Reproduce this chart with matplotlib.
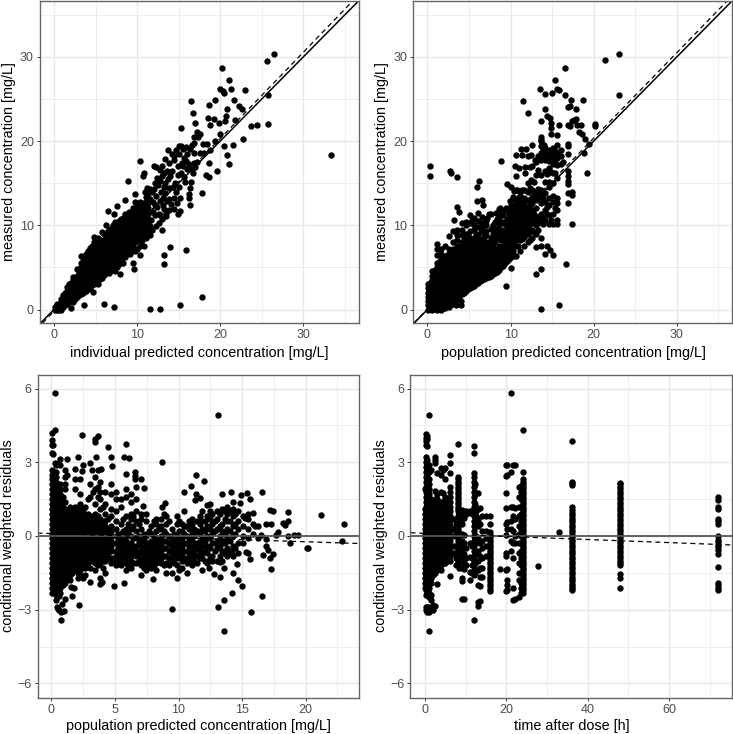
# Goodness-of-fit plots, values
import matplotlib
matplotlib.use('Agg')
import matplotlib.pyplot as plt

plt.rcParams['font.family'] = ['Liberation Sans', 'DejaVu Sans']

# --- panel 1: measured vs individual predicted (columns = ipred: measured values)
dv_by_ipred = {
    0.1: [0.0, 0.3], 0.4: [0.0, 0.4, 0.7], 0.8: [0.0, 0.4, 0.9, 1.3], 1.3: [0.5, 1.0, 1.5, 2.0],
    1.8: [0.9, 1.4, 1.9, 2.4, 3.0], 2.3: [0.9, 1.3, 1.8, 2.3, 2.9, 3.5, 3.9],
    2.8: [1.5, 2.0, 2.5, 3.0, 3.5, 4.0, 4.8], 3.3: [1.8, 2.3, 2.9, 3.4, 4.0, 4.5, 5.0, 5.5, 6.3],
    3.8: [2.2, 2.7, 3.3, 3.8, 4.4, 5.0, 5.5, 6.0, 6.6], 4.3: [2.6, 3.2, 3.8, 4.4, 5.0, 5.6, 6.2, 6.8, 7.3],
    4.8: [3.0, 3.6, 4.2, 4.8, 5.4, 6.0, 6.6, 7.2, 8.0, 8.6], 5.3: [3.0, 3.8, 4.4, 5.0, 5.6, 6.2, 6.8, 7.4, 8.0, 8.5],
    5.8: [3.8, 4.4, 5.0, 5.6, 6.2, 6.8, 7.4, 8.0, 9.2], 6.3: [4.3, 4.9, 5.5, 6.1, 6.7, 7.3, 7.9, 8.5, 10.0],
    6.8: [4.6, 5.2, 5.8, 6.4, 7.0, 7.6, 8.2, 8.8, 9.6], 7.3: [4.6, 5.4, 6.0, 6.6, 7.2, 7.8, 8.4, 9.0, 9.6, 10.4],
    7.8: [5.4, 6.2, 6.8, 7.4, 8.0, 8.6, 9.2, 9.8, 10.5], 8.3: [5.5, 6.6, 7.2, 7.8, 8.4, 9.0, 9.6, 10.2, 10.9],
    8.8: [6.9, 7.6, 8.2, 8.8, 9.4, 10.0, 10.6, 11.2], 9.3: [7.1, 7.8, 8.4, 9.0, 9.6, 10.2, 10.8, 11.4],
    9.8: [6.9, 8.0, 8.6, 9.2, 9.8, 10.4, 11.0, 11.6, 12.8, 13.7], 10.3: [7.5, 8.6, 9.2, 9.8, 10.4, 11.0, 11.6, 12.2, 12.8],
    10.8: [7.6, 8.8, 9.4, 10.0, 10.6, 11.2, 11.8, 12.4], 11.3: [9.0, 9.6, 10.2, 10.8, 11.4, 12.0, 12.6, 13.2, 13.8],
    # staggered columns, the band is solid in the picture
    1.05: [0.3, 0.7, 1.2, 1.7], 1.55: [0.7, 1.2, 1.7, 2.2, 2.7], 2.05: [1.1, 1.6, 2.1, 2.6, 3.2],
    2.55: [1.2, 1.7, 2.2, 2.7, 3.2, 3.7], 3.05: [1.7, 2.2, 2.7, 3.2, 3.7, 4.3, 4.8],
    3.55: [2.0, 2.6, 3.1, 3.7, 4.2, 4.8, 5.3, 5.8], 4.05: [2.4, 3.0, 3.6, 4.1, 4.7, 5.3, 5.8, 6.4, 7.0],
    4.55: [2.9, 3.5, 4.1, 4.7, 5.3, 5.9, 6.5, 7.0, 7.6], 5.05: [3.3, 3.9, 4.5, 5.1, 5.7, 6.3, 6.9, 7.5, 8.2],
    5.55: [3.6, 4.2, 4.7, 5.3, 5.9, 6.5, 7.1, 7.7, 8.3], 6.05: [4.1, 4.7, 5.3, 5.9, 6.5, 7.1, 7.7, 8.3, 9.0],
    6.55: [4.5, 5.1, 5.7, 6.3, 6.9, 7.5, 8.1, 8.7, 9.3], 7.05: [4.9, 5.5, 6.1, 6.7, 7.3, 7.9, 8.5, 9.1, 10.0],
    7.55: [5.1, 5.7, 6.3, 6.9, 7.5, 8.1, 8.7, 9.3, 10.0], 8.05: [5.8, 6.5, 7.1, 7.7, 8.3, 8.9, 9.5, 10.1, 10.7],
    8.55: [6.4, 7.0, 7.6, 8.2, 8.8, 9.4, 10.0, 10.6, 11.3], 9.05: [7.3, 8.0, 8.6, 9.2, 9.8, 10.4, 11.0, 11.6],
    9.55: [7.6, 8.3, 8.9, 9.5, 10.1, 10.7, 11.3, 12.0], 10.05: [7.2, 8.2, 8.9, 9.5, 10.1, 10.7, 11.3, 11.9, 12.5],
    10.55: [8.2, 8.9, 9.5, 10.1, 10.7, 11.3, 11.9, 12.6], 11.05: [8.6, 9.2, 9.8, 10.4, 11.0, 11.6, 12.2, 12.8, 13.4],
}
ipred_scatter = [
    (33.3, 18.3), (26.5, 30.4), (25.6, 29.5), (25.7, 25.5), (25.7, 22.0), (24.4, 21.9), (23.7, 21.8), (22.8, 20.2),
    (23.0, 26.1), (20.2, 28.7), (21.1, 27.2), (20.0, 26.2), (21.3, 26.2), (20.5, 25.7), (20.3, 25.9), (21.7, 24.9),
    (19.4, 24.9), (16.5, 24.8), (18.6, 24.3), (22.3, 24.2), (22.6, 23.8), (20.8, 23.8), (16.7, 23.3), (20.7, 23.0),
    (18.5, 22.8), (21.8, 22.5), (19.2, 22.6), (19.8, 22.2), (20.6, 22.4), (17.0, 22.2), (18.8, 21.9), (15.3, 21.5),
    (20.0, 20.8), (17.2, 21.1), (17.6, 20.9), (16.8, 20.5), (20.5, 19.4), (21.6, 19.5), (20.8, 18.3), (21.0, 17.3),
    (19.6, 16.4), (18.6, 17.4), (18.3, 16.0), (18.7, 15.7), (17.8, 13.8), (16.4, 12.4), (15.9, 7.1), (14.0, 7.4),
    (13.2, 6.5), (13.2, 5.4), (17.8, 1.5), (15.2, 0.5), (12.7, 0.1), (11.5, 0.1), (7.2, 0.3), (6.0, 0.6), (3.6, 0.5),
    (2.1, 0.2), (0.6, 0.0), (4.7, 2.1), (9.6, 4.8), (9.5, 5.5), (7.9, 4.2), (10.4, 6.5), (10.4, 17.6), (10.8, 16.2),
    (10.7, 15.9), (8.9, 15.3), (8.6, 13.0), (7.6, 12.3), (6.5, 11.7), (7.2, 11.3), (11.8, 13.9), (12.0, 14.3),
    (12.3, 13.5), (12.5, 14.8), (12.8, 15.3), (13.0, 15.8), (13.2, 14.5), (13.4, 13.8), (13.6, 12.9), (13.8, 14.4),
    (12.0, 17.0), (12.3, 16.9), (12.8, 16.6), (13.0, 17.0), (13.4, 17.9), (13.6, 16.5), (13.7, 19.0), (14.2, 18.5),
    (14.4, 17.8), (14.2, 16.5), (14.0, 15.9), (14.6, 15.0), (14.3, 14.5), (14.5, 13.2), (14.1, 12.5), (13.9, 11.8),
    (13.5, 11.1), (13.0, 10.8), (12.6, 10.3), (12.3, 9.9), (11.8, 9.4), (11.5, 8.9), (13.5, 11.5), (13.0, 9.5),
    (15.0, 19.4), (15.3, 19.4), (15.5, 19.1), (15.0, 18.5), (15.6, 18.0), (15.9, 17.6), (15.3, 16.2), (15.6, 15.7),
    (15.8, 15.1), (15.0, 14.6), (15.2, 13.3), (14.8, 12.6), (15.2, 11.7), (14.9, 11.3), (16.4, 19.1), (16.6, 19.5),
    (16.9, 19.8), (17.3, 20.5), (16.3, 17.3), (16.6, 16.7), (16.7, 16.2), (16.5, 15.2), (16.4, 14.4), (16.3, 13.7),
    (16.3, 13.2), (17.2, 17.5), (17.6, 18.6), (18.0, 18.6), (18.4, 19.7), (18.8, 19.0), (19.4, 20.0), (14.7, 19.0),
    (11.6, 14.3), (11.9, 12.8), (12.4, 12.2), (12.7, 12.9), (13.1, 12.4), (12.1, 11.2), (11.7, 10.6), (12.6, 11.4),
    (10.9, 14.0), (11.2, 14.4), (15.4, 17.4), (14.9, 17.1), (16.0, 18.5), (13.2, 16.2), (12.4, 15.6), (13.4, 15.0),
    (11.9, 11.6), (12.2, 12.4), (11.5, 13.1), (12.9, 13.9), (12.2, 15.0), (13.7, 15.5), (14.9, 16.0), (15.5, 17.0),
    (14.5, 18.2), (13.9, 17.4), (13.1, 13.2), (13.2, 11.9), (12.8, 11.2), (14.4, 11.9), (14.7, 13.9), (13.9, 13.1),
    (11.1, 8.5), (11.6, 9.9), (10.5, 8.1), (9.2, 6.6), (8.6, 6.2), (8.1, 6.0), (7.1, 5.0), (6.6, 4.3),
    (16.0, 16.7), (16.8, 17.4), (16.9, 18.6), (15.9, 19.3), (17.9, 19.6), (17.0, 16.9),
]

# --- panel 2: measured vs population predicted (columns = pred: measured values)
dv_by_pred = {
    0.1: [0.0, 0.5, 1.0, 1.5, 2.0, 2.5, 3.0],
    0.6: [0.0, 0.5, 1.0, 1.5, 2.0, 2.5, 3.0, 3.5, 4.0, 4.6],
    1.1: [0.0, 0.5, 1.0, 1.5, 2.0, 2.5, 3.0, 3.5, 4.0, 4.5, 5.0, 5.5, 6.5, 7.2, 7.8],
    1.6: [0.0, 0.5, 1.0, 1.5, 2.0, 2.5, 3.0, 3.5, 4.0, 4.5, 5.0, 5.5, 6.0, 6.6, 7.2],
    2.1: [0.2, 0.7, 1.2, 1.7, 2.2, 2.7, 3.2, 3.7, 4.2, 4.7, 5.2, 5.7, 6.1, 7.6],
    2.6: [0.3, 0.8, 1.3, 1.8, 2.3, 2.8, 3.3, 3.8, 4.3, 4.8, 5.3, 5.8, 6.3, 6.6, 7.2, 8.7],
    3.1: [0.6, 1.1, 1.6, 2.1, 2.6, 3.1, 3.6, 4.1, 4.6, 5.1, 5.6, 6.1, 6.6, 7.2, 8.0, 9.3],
    3.6: [1.2, 1.7, 2.2, 2.7, 3.2, 3.7, 4.2, 4.7, 5.2, 5.7, 6.2, 6.7, 7.5, 8.2, 8.9, 9.5],
    4.1: [1.8, 2.3, 2.8, 3.3, 3.8, 4.3, 4.8, 5.3, 5.8, 6.3, 6.8, 7.3, 8.0, 8.8, 9.5, 10.3],
    4.6: [2.2, 2.7, 3.2, 3.7, 4.2, 4.7, 5.2, 5.7, 6.2, 6.7, 7.2, 7.7, 8.4, 9.0, 10.0, 10.4],
    5.1: [2.5, 3.0, 3.5, 4.0, 4.5, 5.0, 5.5, 6.0, 6.5, 7.0, 7.5, 8.5, 9.3, 10.3, 11.2],
    5.6: [2.8, 3.3, 3.8, 4.3, 4.8, 5.3, 5.8, 6.3, 6.8, 7.3, 7.8, 8.5, 9.5, 10.0, 10.9],
    6.1: [3.2, 3.7, 4.2, 4.7, 5.2, 5.7, 6.2, 6.7, 7.2, 7.7, 8.6, 9.8, 10.5, 11.5],
    6.6: [3.5, 4.0, 4.5, 5.0, 5.5, 6.0, 6.5, 7.0, 8.0, 9.8, 10.3, 11.0],
    7.1: [3.7, 4.2, 4.7, 5.2, 5.7, 6.2, 6.7, 7.2, 8.0, 9.3, 10.0, 10.5],
    7.6: [4.0, 4.5, 5.0, 5.5, 6.0, 6.5, 7.0, 7.5, 8.5, 9.6, 11.3],
    8.1: [4.3, 4.8, 5.3, 5.8, 6.3, 6.9, 8.0, 9.3, 10.4],
    8.6: [4.7, 5.2, 5.7, 6.2, 6.7, 7.5, 9.0, 10.0, 11.0, 11.9],
    9.1: [5.2, 5.7, 6.2, 6.8, 7.5, 8.7, 9.5, 11.2],
    9.6: [5.8, 6.4, 7.0, 7.8, 8.5, 9.2, 10.0, 10.8],
    10.1: [6.2, 6.7, 7.3, 8.0, 8.7, 9.5, 10.3, 11.0, 11.8, 12.4],
    10.6: [6.4, 7.5, 8.3, 9.0, 9.7, 10.5, 11.2, 12.0, 13.0, 14.2],
    11.1: [7.0, 8.2, 9.0, 9.8, 10.6, 11.3, 12.0, 12.8, 13.5],
    11.6: [7.5, 8.6, 9.4, 10.2, 11.0, 11.8, 12.5, 13.2, 14.2],
    12.1: [8.0, 9.0, 9.8, 10.5, 11.2, 12.0, 13.0, 14.0, 15.0],
    12.6: [8.5, 9.5, 10.3, 11.0, 11.8, 12.6, 13.4, 14.2, 15.3],
    13.1: [7.4, 9.0, 10.0, 11.0, 12.0, 13.0, 14.0, 16.0, 17.5],
    13.6: [7.6, 8.5, 10.5, 11.4, 12.6, 13.6, 14.2, 16.0, 17.8, 18.6, 19.4],
    14.1: [10.6, 11.8, 12.8, 13.8, 15.2, 16.5, 17.8, 18.5, 19.2],
    14.6: [10.2, 11.2, 12.4, 13.2, 14.5, 15.2, 16.8, 17.6, 18.2, 19.0],
    15.1: [10.2, 11.3, 12.8, 13.5, 15.0, 16.2, 17.3, 18.2, 19.2],
    15.6: [10.1, 10.6, 11.8, 12.7, 13.2, 15.6, 17.2, 18.0, 18.5, 19.5],
    16.1: [17.3, 18.2],
    16.9: [12.6, 13.8, 14.9, 15.3, 15.8, 16.4],
    17.4: [13.6, 14.0],
    # staggered columns, the picture is solid black here
    0.35: [0.2, 0.7, 1.2, 1.7, 2.2, 2.7, 3.2],
    0.85: [0.2, 0.7, 1.2, 1.7, 2.2, 2.7, 3.2, 3.7, 4.2, 4.7],
    1.35: [0.2, 0.7, 1.2, 1.7, 2.2, 2.7, 3.2, 3.7, 4.2, 4.7, 5.2, 5.7],
    1.85: [0.2, 0.7, 1.2, 1.7, 2.2, 2.7, 3.2, 3.7, 4.2, 4.7, 5.2, 5.7, 6.3],
    2.35: [0.5, 1.0, 1.5, 2.0, 2.5, 3.0, 3.5, 4.0, 4.5, 5.0, 5.5, 6.0, 6.5],
    2.85: [0.6, 1.1, 1.6, 2.1, 2.6, 3.1, 3.6, 4.1, 4.6, 5.1, 5.6, 6.1, 6.6],
    3.35: [1.0, 1.5, 2.0, 2.5, 3.0, 3.5, 4.0, 4.5, 5.0, 5.5, 6.0, 6.5, 7.0],
    3.85: [1.5, 2.0, 2.5, 3.0, 3.5, 4.0, 4.5, 5.0, 5.5, 6.0, 6.5, 7.0, 7.6],
    4.35: [2.0, 2.5, 3.0, 3.5, 4.0, 4.5, 5.0, 5.5, 6.0, 6.5, 7.0, 7.5, 8.3],
    4.85: [2.4, 2.9, 3.4, 3.9, 4.4, 4.9, 5.4, 5.9, 6.4, 6.9, 7.4, 8.0],
    5.35: [2.7, 3.2, 3.7, 4.2, 4.7, 5.2, 5.7, 6.2, 6.7, 7.2, 7.7, 8.2],
    5.85: [3.0, 3.5, 4.0, 4.5, 5.0, 5.5, 6.0, 6.5, 7.0, 7.5, 8.0],
    6.35: [3.4, 3.9, 4.4, 4.9, 5.4, 5.9, 6.4, 6.9, 7.4, 8.3],
    6.85: [3.6, 4.1, 4.6, 5.1, 5.6, 6.1, 6.6, 7.1, 7.6, 8.6],
    7.35: [3.9, 4.4, 4.9, 5.4, 5.9, 6.4, 6.9, 7.7],
    7.85: [4.2, 4.7, 5.2, 5.7, 6.2, 6.7, 7.4, 9.0, 10.0],
    8.35: [4.5, 5.0, 5.5, 6.0, 6.6, 7.2, 8.5, 9.6, 10.8],
    8.85: [5.0, 5.5, 6.0, 6.5, 7.1, 8.2, 9.3, 10.4, 11.6],
    9.35: [5.5, 6.0, 6.5, 7.1, 8.0, 9.1, 10.2, 11.8],
    9.85: [6.0, 6.6, 7.2, 8.4, 9.7, 10.5, 11.4],
    10.35: [6.4, 7.0, 7.7, 8.4, 9.1, 9.9, 10.8, 11.6, 12.4, 13.4],
    10.85: [7.6, 8.6, 9.3, 10.1, 10.9, 11.7, 12.6, 13.2],
    11.35: [8.4, 9.2, 10.0, 10.8, 11.6, 12.3],
    11.85: [9.0, 9.7, 10.5, 11.4, 12.1, 13.0],
    12.35: [8.2, 9.3, 10.2, 10.9, 11.6, 12.4, 14.4],
    12.85: [9.2, 10.6, 11.3, 13.6, 14.0, 15.1],
    13.35: [9.5, 10.3, 11.0, 13.3, 14.3, 16.6, 18.2],
    13.85: [10.1, 11.0, 13.2, 18.0, 19.0],
    14.35: [11.3, 12.2, 16.1, 18.1, 18.8],
    14.85: [10.6, 16.3, 17.9, 18.6],
    15.35: [12.0, 17.7, 18.8],
}
pred_scatter = [
    (23.1, 30.4), (21.3, 29.6), (23.0, 25.5), (20.2, 22.0), (20.1, 21.8), (16.6, 28.7), (15.4, 27.2), (13.5, 26.2),
    (15.6, 26.2), (15.8, 26.1), (14.1, 25.6), (15.0, 25.7), (16.5, 25.5), (17.3, 24.9), (18.7, 24.9), (11.5, 24.8),
    (17.2, 24.2), (16.9, 24.1), (17.9, 23.8), (14.1, 23.8), (12.1, 23.3), (14.4, 23.0), (14.7, 22.7), (17.6, 22.5),
    (17.9, 22.6), (17.4, 22.4), (13.6, 22.4), (14.9, 22.2), (15.8, 21.9), (16.9, 21.9), (17.2, 21.8), (18.0, 21.9),
    (18.5, 21.9), (14.9, 21.5), (18.2, 21.1), (18.6, 20.9), (14.9, 20.8), (15.6, 20.7), (18.9, 20.2), (19.4, 19.7),
    (13.6, 20.5), (13.6, 20.1), (16.9, 19.7), (16.9, 19.4), (16.9, 18.5), (18.8, 18.6), (19.2, 16.2), (8.8, 17.6),
    (0.3, 17.0), (0.3, 15.9), (2.7, 16.4), (2.8, 16.2), (3.6, 15.7), (6.2, 15.3), (5.9, 14.5), (6.0, 12.9),
    (6.6, 13.0), (6.7, 12.4), (3.6, 12.2), (3.8, 11.6), (3.2, 10.6), (17.4, 10.1), (16.7, 5.4), (15.1, 6.5),
    (14.2, 6.6), (14.4, 7.5), (14.7, 7.1), (13.6, 4.8), (13.1, 4.2), (10.0, 4.9), (9.5, 2.8), (15.8, 0.5),
    (13.7, 0.1), (3.4, 0.5), (4.0, 0.5), (4.0, 1.0), (10.6, 18.4), (11.3, 19.1), (11.8, 19.1), (12.6, 19.5),
    (11.4, 18.3), (12.1, 18.2), (12.4, 18.4), (12.9, 17.8), (10.5, 17.0), (11.0, 16.8), (11.7, 16.9), (12.3, 16.9),
    (12.6, 17.1), (11.7, 16.2), (10.6, 15.9), (9.6, 14.9), (10.1, 14.5), (10.4, 14.1), (11.4, 14.2), (12.4, 15.4),
    (13.6, 20.0), (14.0, 19.5), (15.4, 16.2), (15.0, 15.0), (14.2, 18.9), (15.3, 18.7), (16.1, 18.9), (16.3, 17.5),
    (4.9, 9.0), (5.4, 10.6), (7.4, 11.3), (8.2, 11.5), (8.7, 12.1), (7.2, 10.9), (9.1, 10.4), (9.5, 12.0),
    (10.3, 13.2), (9.9, 12.9), (10.8, 14.2), (11.1, 14.0), (5.8, 9.0), (6.4, 9.2), (7.0, 8.8), (7.6, 8.2),
    (8.2, 8.5), (8.8, 8.4), (9.3, 7.7), (9.8, 7.9), (6.4, 7.4),
]

# --- panel 3: CWRES vs population predicted (columns = pred: residuals)
cwres_by_pred = {
    0.05: [-2.3, -2.1, -1.9, -1.7, -1.5, -1.3, -1.1, -0.9, -0.7, -0.5, -0.3, -0.1, 0.1, 0.3, 0.5, 0.7, 0.9, 1.1, 1.3, 1.5, 1.7, 1.9, 2.1, 2.3, 2.5, 2.7, 3.38, 3.72, 3.9],
    0.35: [-2.6, -2.4, -2.2, -2.0, -1.8, -1.6, -1.4, -1.2, -1.0, -0.8, -0.6, -0.4, -0.2, 0.0, 0.2, 0.4, 0.6, 0.8, 1.0, 1.2, 1.4, 1.6, 1.8, 2.0, 2.2, 2.4, 2.6, 2.9],
    0.7: [-2.3, -2.1, -1.9, -1.7, -1.5, -1.3, -1.1, -0.9, -0.7, -0.5, -0.3, -0.1, 0.1, 0.3, 0.5, 0.7, 0.9, 1.1, 1.3, 1.5, 1.7, 1.9, 2.1, 2.9],
    1.05: [-1.9, -1.7, -1.5, -1.3, -1.1, -0.9, -0.7, -0.5, -0.3, -0.1, 0.1, 0.3, 0.5, 0.7, 0.9, 1.1, 1.4, 1.9, 2.1, 2.4, 2.7],
    1.45: [-1.8, -1.6, -1.4, -1.2, -1.0, -0.8, -0.6, -0.4, -0.2, 0.0, 0.2, 0.4, 0.6, 0.8, 1.0, 1.2],
    1.85: [-1.4, -1.2, -1.0, -0.8, -0.6, -0.4, -0.2, 0.0, 0.2, 0.4, 0.6, 0.8, 1.0, 1.2, 1.9, 2.3],
    2.25: [-1.6, -1.4, -1.2, -1.0, -0.8, -0.6, -0.4, -0.2, 0.0, 0.2, 0.4, 0.6, 0.8, 1.0, 1.3, 1.7, 2.3],
    2.65: [-1.6, -1.3, -1.1, -0.9, -0.7, -0.5, -0.3, -0.1, 0.1, 0.3, 0.5, 0.7, 0.9, 1.2],
    3.05: [-1.3, -1.0, -0.8, -0.6, -0.4, -0.2, 0.0, 0.2, 0.4, 0.6, 0.8, 1.6, 2.1],
    3.45: [-1.4, -1.1, -0.9, -0.7, -0.5, -0.3, -0.1, 0.1, 0.3, 0.5, 0.7, 0.9, 1.3, 1.9, 2.4],
    3.85: [-1.7, -1.1, -0.9, -0.7, -0.5, -0.3, -0.1, 0.1, 0.3, 0.5, 0.7, 1.1, 1.5, 1.8, 2.2],
    4.25: [-1.5, -1.0, -0.8, -0.6, -0.4, -0.2, 0.0, 0.2, 0.4, 0.6, 0.9, 1.3, 1.8],
    4.65: [-1.1, -0.9, -0.6, -0.4, -0.2, 0.0, 0.2, 0.4, 0.8, 1.1, 1.7, 2.1],
    5.05: [-1.2, -1.0, -0.8, -0.6, -0.3, 0.0, 0.3, 0.6, 1.0, 1.5, 1.8],
    5.45: [-1.2, -0.9, -0.7, -0.5, -0.3, -0.1, 0.1, 0.5, 1.2, 1.5],
    5.85: [-1.4, -1.1, -0.8, -0.6, -0.4, -0.2, 0.0, 0.3, 0.8, 1.6, 1.9],
    6.25: [-1.3, -1.0, -0.8, -0.5, -0.3, 0.0, 0.3, 0.7, 0.9, 1.4, 1.7],
    6.65: [-1.1, -0.8, -0.6, -0.4, -0.1, 0.2, 0.6, 1.0, 1.5, 2.0],
    7.05: [-1.6, -1.2, -0.9, -0.6, -0.4, -0.1, 0.3, 0.7, 0.9],
    7.45: [-1.4, -1.1, -0.8, -0.5, -0.3, 0.0, 0.6, 0.9],
    7.85: [-1.3, -1.0, -0.7, -0.4, -0.2, 0.1, 0.4],
    8.25: [-1.4, -1.1, -0.8, -0.5, -0.2, 0.2, 0.5, 0.7],
    8.65: [-1.1, -0.9, -0.6, -0.3, 0.0, 0.4, 0.7],
    9.05: [-1.5, -1.1, -0.8, -0.5, -0.2, 0.1, 0.5, 0.8],
    9.45: [-1.5, -1.0, -0.7, -0.4, -0.1, 0.3],
    9.85: [-1.7, -1.2, -0.9, -0.6, -0.3, 0.0, 0.5, 0.8],
    10.25: [-1.3, -1.0, -0.7, -0.4, -0.1, 0.2, 0.5],
    10.65: [-1.5, -1.1, -0.9, -0.6, -0.3, 0.0, 0.4],
    11.05: [-1.2, -0.8, -0.6, -0.2, 0.1, 0.5, 0.7],
    11.45: [-1.1, -0.8, -0.5, -0.3, 0.2, 0.6],
    11.85: [-1.4, -0.9, -0.7, -0.4, -0.1, 0.3, 0.6, 1.0],
    12.25: [-1.1, -0.7, -0.4, 0.0, 0.4, 0.8],
    12.65: [-1.0, -0.8, -0.3, 0.1, 0.5, 0.9],
    13.05: [-1.0, -0.5, -0.2, 0.3, 0.7, 1.0],
    13.45: [-1.0, -0.6, -0.2, 0.2, 0.5, 1.1],
    13.85: [-0.8, -0.5, -0.1, 0.3, 0.6, 0.9, 1.2],
    14.25: [-0.8, -0.4, 0.0, 0.4, 0.8, 1.1],
    14.65: [-0.7, -0.3, 0.3, 0.6, 1.0],
    15.05: [-0.3, 0.0, 0.4, 0.8],
    15.45: [-0.7, -0.1, 0.3, 0.7, 0.9],
    15.85: [0.1, 0.5, 0.95],
    16.25: [-0.1, 0.4],
    # staggered columns where the picture is solid
    0.2: [-2.2, -2.0, -1.8, -1.6, -1.4, -1.2, -1.0, -0.8, -0.6, -0.4, -0.2, 0.0, 0.2, 0.4, 0.6, 0.8, 1.0, 1.2, 1.4, 1.6, 1.8, 2.0, 2.2, 2.4, 2.6],
    0.55: [-2.2, -2.0, -1.8, -1.6, -1.4, -1.2, -1.0, -0.8, -0.6, -0.4, -0.2, 0.0, 0.2, 0.4, 0.6, 0.8, 1.0, 1.2, 1.4, 1.6, 1.8],
    0.9: [-2.0, -1.8, -1.6, -1.4, -1.2, -1.0, -0.8, -0.6, -0.4, -0.2, 0.0, 0.2, 0.4, 0.6, 0.8, 1.0, 1.2, 1.6],
    1.25: [-1.6, -1.4, -1.2, -1.0, -0.8, -0.6, -0.4, -0.2, 0.0, 0.2, 0.4, 0.6, 0.8, 1.0, 2.5],
    1.65: [-1.5, -1.3, -1.1, -0.9, -0.7, -0.5, -0.3, -0.1, 0.1, 0.3, 0.5, 0.7, 0.9, 1.1],
    2.05: [-1.7, -1.5, -1.3, -1.1, -0.9, -0.7, -0.5, -0.3, -0.1, 0.1, 0.3, 0.5, 0.7, 0.9, 1.1],
    2.45: [-1.7, -1.2, -1.0, -0.8, -0.6, -0.4, -0.2, 0.0, 0.2, 0.4, 0.6, 0.8, 1.1],
    2.85: [-1.1, -0.9, -0.7, -0.5, -0.3, -0.1, 0.1, 0.3, 0.5, 0.7, 0.9, 1.5],
    3.25: [-1.0, -0.8, -0.6, -0.4, -0.2, 0.0, 0.2, 0.4, 0.6, 0.8, 1.8],
    3.65: [-1.2, -1.0, -0.8, -0.6, -0.4, -0.2, 0.0, 0.2, 0.4, 0.6, 0.8, 1.6, 2.0],
    4.05: [-1.3, -1.0, -0.8, -0.6, -0.4, -0.2, 0.0, 0.2, 0.4, 0.6, 1.2],
    4.45: [-0.9, -0.7, -0.5, -0.3, -0.1, 0.1, 0.3, 0.7],
    5.25: [-1.0, -0.7, -0.5, -0.2, 0.1],
    5.65: [-1.0, -0.8, -0.5, -0.2, 0.2, 0.7],
    6.05: [-1.2, -0.9, -0.6, -0.3, 0.1, 0.5],
    6.45: [-1.1, -0.7, -0.4, -0.1, 0.4, 0.8],
    6.85: [-1.0, -0.7, -0.3, 0.0, 0.5],
    7.25: [-1.3, -1.0, -0.7, -0.5, -0.2, 0.1],
    7.65: [-1.2, -0.9, -0.6, -0.3, 0.2],
    8.05: [-1.2, -0.9, -0.6, -0.3, 0.0, 0.6],
    8.45: [-1.0, -0.7, -0.4, -0.1, 0.3],
    8.85: [-1.2, -0.8, -0.5, -0.2, 0.2, 0.9],
    9.25: [-1.2, -0.9, -0.6, -0.3, 0.0, 0.6],
    9.65: [-1.1, -0.8, -0.5, -0.2, 0.1],
    10.05: [-1.4, -0.8, -0.5, -0.2, 0.2, 0.6],
    10.45: [-0.9, -0.6, -0.3, 0.1, 0.4],
    10.85: [-1.0, -0.7, -0.4, -0.1, 0.3, 0.6],
    11.25: [-1.0, -0.7, -0.4, 0.0, 0.3],
    11.65: [-0.9, -0.6, -0.2, 0.1, 0.5, 0.8],
    12.05: [-1.0, -0.6, -0.2, 0.2, 0.6],
    12.45: [-0.9, -0.5, -0.1, 0.3, 0.7, 1.0],
    12.85: [-0.6, -0.3, 0.2, 0.6],
    13.25: [-0.8, -0.4, 0.0, 0.4, 0.9],
    13.65: [-0.7, -0.3, 0.1, 0.7, 1.0],
    14.05: [-0.6, -0.2, 0.2, 0.6, 1.0],
    14.45: [-0.5, 0.1, 0.5, 0.9],
}
cwres_pred_scatter = [
    (0.3, 5.83), (13.1, 4.94), (0.25, 4.31), (0.05, 4.2), (2.4, 4.1), (3.7, 4.06), (3.4, 3.93), (3.4, 3.81),
    (5.9, 3.73), (4.45, 3.62), (2.05, 3.2), (3.5, 3.2), (4.7, 3.2), (5.7, 3.2), (6.1, 3.19), (1.2, 3.12), (0.7, 3.13),
    (8.7, 3.01), (3.0, 2.97), (2.5, 2.88), (4.75, 2.83), (3.9, 2.73), (3.7, 2.69), (1.85, 2.71), (3.2, 2.7),
    (2.4, 2.65), (5.85, 2.54), (6.6, 2.59), (6.55, 2.45), (11.4, 2.48), (12.0, 2.25), (11.0, 2.02), (6.55, 2.33),
    (7.05, 2.32), (7.3, 1.97), (16.6, 1.8), (10.4, 1.78), (13.4, 1.72), (14.1, 1.78), (15.4, 1.76), (14.95, 1.66),
    (11.4, 1.72), (11.7, 1.56), (15.6, 1.51), (11.3, 1.45), (8.95, 1.34), (8.7, 1.17), (7.2, 1.23), (10.4, 1.03),
    (12.25, 1.25), (12.5, 1.29), (14.3, 1.38), (14.8, 1.36), (17.2, 1.07), (17.4, 1.03), (18.6, 0.96), (21.2, 0.87),
    (23.0, 0.5), (22.9, -0.2), (20.2, -0.49), (20.1, -0.47), (18.8, -0.28), (18.6, 0.0), (19.1, 0.05), (19.4, 0.04),
    (18.6, 0.61), (18.2, 0.53), (18.4, 0.46), (16.85, 0.5), (17.3, 0.5), (17.85, 0.16), (17.7, 0.03), (16.9, -0.11),
    (16.9, -0.42), (17.0, -0.56), (17.4, -0.75), (16.65, -0.79), (17.2, -0.9), (17.3, -1.36), (16.6, -2.43),
    (15.7, -3.09), (13.6, -3.87), (13.1, -2.89), (13.6, -2.6), (14.2, -2.32), (15.0, -2.05), (14.65, -1.8),
    (14.3, -1.52), (12.8, -1.53), (13.3, -1.67), (13.6, -1.3), (14.6, -1.15), (15.6, -0.92), (15.3, -0.65),
    (9.45, -2.99), (5.7, -1.91), (4.9, -2.04), (3.05, -1.89), (2.2, -2.81), (0.75, -3.41), (1.65, -2.43), (1.1, -2.58),
    (1.8, -2.12), (1.5, -2.08), (8.0, -1.76), (3.8, -1.94), (4.0, -1.87), (0.4, -2.9), (0.6, -3.0), (0.95, -3.07),
    (0.75, -3.09), (0.55, -2.96), (0.8, -2.75), (0.6, -2.45), (0.1, 3.72), (0.1, 3.35), (0.3, 2.95), (0.5, 2.98),
    (14.2, -0.7), (13.3, -1.05), (12.4, -1.3), (15.2, 0.75), (16.0, 0.4), (16.5, 0.05),
]

# --- panel 4: CWRES vs time after dose (columns = time: residuals)
cwres_by_time = {
    0.0: [-2.1, -1.9, -1.7, -1.5, -1.3, -1.1, -0.9, -0.7, -0.5, -0.3, -0.1, 0.1, 0.3, 0.5, 0.7, 0.9, 1.1, 1.9],
    0.25: [-3.0, -2.9, -2.4, -2.2, -2.0, -1.8, -1.6, -1.4, -1.2, -1.0, -0.8, -0.6, -0.4, -0.2, 0.0, 0.2, 0.4, 0.6, 0.8, 1.0, 1.2, 1.4, 1.6, 1.8, 2.0, 2.2, 2.4, 2.6, 2.8, 3.0, 3.2, 3.7, 3.85, 4.0, 4.15],
    0.5: [-3.1, -2.9, -2.3, -2.1, -1.9, -1.7, -1.5, -1.3, -1.1, -0.9, -0.7, -0.5, -0.3, -0.1, 0.1, 0.3, 0.5, 0.7, 0.9, 1.1, 1.3, 1.5, 1.7, 1.9, 2.1, 2.3, 2.5, 2.7, 2.9, 3.1, 3.65, 3.95, 4.05],
    1.0: [-3.87, -3.1, -2.9, -2.5, -2.3, -2.1, -1.9, -1.7, -1.5, -1.3, -1.1, -0.9, -0.7, -0.5, -0.3, -0.1, 0.1, 0.3, 0.5, 0.7, 0.9, 1.1, 1.3, 1.5, 1.7, 1.9, 2.1, 2.3, 2.6, 2.9, 4.94],
    1.5: [-3.0, -2.6, -2.4, -1.9, -1.7, -1.5, -1.3, -1.1, -0.9, -0.7, -0.5, -0.3, -0.1, 0.1, 0.3, 0.5, 0.7, 0.9, 1.1, 1.3, 1.5, 2.7],
    2.0: [-3.0, -2.8, -1.6, -1.4, -1.2, -1.0, -0.8, -0.6, -0.4, -0.2, 0.0, 0.2, 0.4, 0.6, 0.8, 1.0, 1.2, 1.4],
    2.5: [-2.85, -1.5, -1.3, -1.1, -0.9, -0.7, -0.5, -0.3, -0.1, 0.1, 0.3, 0.5, 0.7, 0.9, 1.1, 1.3, 1.5, 1.85, 2.95, 3.1, 3.2],
    3.0: [-1.97, -1.4, -1.1, -0.9, -0.7, -0.5, -0.3, -0.1, 0.1, 0.3, 0.5, 0.7, 0.9, 1.1, 1.3, 1.5, 1.7, 2.55],
    3.5: [-1.2, -1.0, -0.8, -0.6, -0.4, -0.2, 0.0, 0.2, 0.4, 0.6, 0.8, 1.0, 1.2, 1.4],
    4.0: [-1.4, -1.2, -1.0, -0.8, -0.6, -0.4, -0.2, 0.0, 0.2, 0.4, 0.6, 0.8, 1.0, 1.2, 1.4, 1.8, 2.5, 2.75],
    4.5: [-1.1, -0.8, -0.5, -0.2, 0.1, 0.4, 0.7, 1.0, 1.3, 1.75, 2.7],
    5.0: [-1.1, -0.9, -0.7, -0.5, -0.3, -0.1, 0.1, 0.3, 0.5, 0.7, 0.9, 1.1, 1.3, 1.5, 1.6, 2.3, 2.78],
    5.5: [-1.0, -0.7, -0.4, -0.1, 0.2, 0.5, 0.8, 1.1, 1.5],
    6.0: [-1.62, -1.0, -0.8, -0.6, -0.4, -0.2, 0.0, 0.2, 0.4, 0.6, 0.8, 1.0, 1.2, 1.4, 1.6, 1.8, 2.0, 2.55, 2.95, 3.3],
    7.0: [-0.7, -0.4, 0.0, 0.3, 0.7],
    7.7: [-1.2, -0.9, -0.7, -0.4, 0.2, 0.5],
    8.0: [-1.2, -1.0, -0.8, -0.6, -0.4, -0.2, 0.0, 0.2, 0.4, 0.6, 0.8, 1.0, 1.2, 1.4, 1.6, 1.8, 2.0, 2.2, 2.4, 3.73],
    8.1: [-0.9, -0.5, -0.1, 0.3, 0.7, 1.1, 1.3, 1.5, 1.7, 1.9, 2.1, 2.3],
    8.4: [-1.3, -0.85, -0.5, 0.55, 0.95],
    9.0: [-2.58, -1.85, -1.7, -1.3, -1.0, -0.8, -0.6, -0.4, -0.2, 0.1, 0.5, 0.7, 0.9, 1.05],
    9.5: [-2.58, -1.35, -1.1, -0.75, -0.3, 0.05, 0.75, 1.0],
    10.0: [-1.2, -0.9, -0.5, 0.9, 1.0],
    11.0: [-1.77, -1.45, -0.85, -0.3, 0.95, 1.0],
    11.5: [-1.5, -1.2, -0.9, -0.4, 1.0],
    12.0: [-3.42, -1.6, -1.4, -1.2, -1.0, -0.8, -0.6, -0.4, -0.2, 0.0, 0.2, 0.4, 0.6, 0.8, 1.0, 1.2, 1.4, 1.6, 1.8, 2.0, 2.2, 2.4, 2.55, 3.38, 3.67],
    12.25: [-1.5, -1.1, -0.7, -0.1, 0.5, 0.9, 1.3, 1.7, 2.1],
    12.5: [-1.4, -1.0, -0.7, -0.3, 0.0, 0.4, 0.8, 1.0, 1.75],
    13.0: [-2.85, -2.7, -2.0, -1.4, -1.0, -0.6, -0.1, 0.4, 0.7, 1.1, 1.75],
    13.4: [-2.65, -2.05, -1.65, -1.3, -0.8, -0.3, 0.5, 1.15],
    14.0: [-1.65, -1.3, -0.9, -0.5, -0.2, 0.2, 0.8],
    15.0: [-0.8, -0.4, -0.1, 0.2, 0.8],
    16.0: [-2.25, -2.05, -1.85, -1.65, -1.45, -1.25, -1.05, -0.85, -0.65, -0.45, -0.25, -0.05, 0.15, 0.5, 0.8],
    16.05: [-2.15, -1.95, -1.75, -1.55, -1.35, -1.15, -0.95, -0.75, -0.55, -0.35, -0.15, 0.05],
    18.3: [-1.36],
    19.8: [-2.25, -1.4, -0.8, -0.7, 0.05, 0.5, 1.15, 1.75, 2.46, 2.9],
    20.2: [-2.2, -2.0, -1.8, -1.35, 0.3, 0.55, 2.5, 2.9],
    21.0: [-0.6, -0.2, 0.3, 0.6, 1.2, 2.62, 5.83],
    21.6: [-2.6, -2.1, -0.9, -0.3, 0.2, 0.8, 1.2, 2.88],
    22.1: [-2.58, -0.3, 0.0, 0.7, 1.15, 2.9],
    23.0: [-2.5, -1.8, -1.5, -1.1, -0.7, -0.3, 0.1, 0.4, 0.8, 1.2, 1.6, 2.0],
    23.5: [-2.3, -2.1, -1.9, -1.5, -1.2, -0.9, -0.6, -0.3, 0.0, 0.3, 0.6, 0.9, 1.2, 1.5, 1.8, 2.05],
    24.0: [-2.3, -2.1, -1.9, -1.7, -1.5, -1.3, -1.1, -0.9, -0.7, -0.5, -0.3, -0.1, 0.1, 0.3, 0.5, 0.7, 0.9, 1.1, 1.3, 1.5, 1.7, 1.9, 2.1, 2.3, 2.6, 4.31],
    24.05: [-2.2, -2.0, -1.8, -1.6, -1.4, -1.2, -1.0, -0.8, -0.6, -0.4, -0.2, 0.0, 0.2, 0.4, 0.6, 0.8, 1.0, 1.2, 1.4, 1.6, 1.8, 2.0, 2.2],
    27.8: [-1.22],
    33.0: [0.17],
    36.0: [-2.2, -2.05, -1.85, -1.65, -1.45, -1.25, -1.05, -0.85, -0.65, -0.45, -0.25, -0.05, 0.15, 0.35, 0.55, 0.75, 0.95, 1.2, 2.08, 2.2, 3.87],
    36.05: [-2.1, -1.95, -1.75, -1.55, -1.35, -1.15, -0.95, -0.75, -0.55, -0.35, -0.15, 0.05, 0.25, 0.45, 0.65, 0.85, 1.05, 2.14],
    48.0: [-2.1, -1.7, -1.55, -1.2, -1.0, -0.8, -0.6, -0.4, -0.2, 0.0, 0.2, 0.4, 0.6, 0.8, 1.0, 1.2, 1.4, 1.6, 1.8, 2.0, 2.15],
    48.05: [-1.1, -0.9, -0.7, -0.5, -0.3, -0.1, 0.1, 0.3, 0.5, 0.7, 0.9, 1.1, 1.3, 1.5, 1.7, 1.9, 2.1],
    72.0: [-2.2, -2.1, -2.0, -1.9, -1.25, -0.75, -0.55, -0.45, -0.35, -0.25, -0.15, 0.0, 0.5, 0.6, 0.7, 1.1, 1.2, 1.45, 1.6],
}

# dashed trend lines (slope, intercept)
trend_ipred = (1.025, -0.2)
trend_pred = (1.015, 0.05)
trend_cwres_pred = (-0.0167, 0.1)
trend_cwres_time = (-0.0063, 0.11)

conc_ticks = [0, 10, 20, 30]
conc_minor = [5, 15, 25, 35]
cwres_ticks = [-6, -3, 0, 3, 6]
cwres_minor = [-4.5, -1.5, 1.5, 4.5]
pred_ticks = [0, 5, 10, 15, 20]
pred_minor = [2.5, 7.5, 12.5, 17.5, 22.5]
time_ticks = [0, 20, 40, 60]
time_minor = [10, 30, 50, 70]

W, H = 733, 734
DOT = 21


def expand(columns, extra=()):
    xs, ys = [], []
    for x, vals in columns.items():
        xs += [x] * len(vals)
        ys += vals
    for x, y in extra:
        xs.append(x)
        ys.append(y)
    return xs, ys


def make_axes(fig, left, right, top, bottom, xticks, xminor, yticks, yminor, xlim, ylim, xlabel, ylabel,
              xpad=3.7, ypad=3):
    ax = fig.add_axes([left / W, 1 - bottom / H, (right - left) / W, (bottom - top) / H])
    ax.set_xlim(xlim)
    ax.set_ylim(ylim)
    ax.set_xticks(xticks)
    ax.set_yticks(yticks)
    ax.set_xticks(xminor, minor=True)
    ax.set_yticks(yminor, minor=True)
    ax.tick_params(which='minor', length=0)
    ax.tick_params(which='major', length=2.4, width=0.7, color='#333333', labelcolor='#4d4d4d',
                   labelsize=9, pad=2)
    ax.grid(which='major', color='#e8e8e8', linewidth=1.0)
    ax.grid(which='minor', color='#ebebeb', linewidth=0.6)
    ax.set_axisbelow(True)
    for s in ax.spines.values():
        s.set_color('#666666')
        s.set_linewidth(1.0)
    ax.set_xlabel(xlabel, fontsize=10.4, labelpad=xpad)
    ax.set_ylabel(ylabel, fontsize=10.4, labelpad=ypad)
    return ax


fig = plt.figure(figsize=(W / 100, H / 100), dpi=100)

conc_lim = (-1.68, 36.7)
cwres_lim = (-6.57, 6.57)

ax1 = make_axes(fig, 40, 359, 0.5, 323, conc_ticks, conc_minor, conc_ticks, conc_minor, conc_lim, (-1.6, 36.7),
                'individual predicted concentration [mg/L]', 'measured concentration [mg/L]')
x, y = expand(dv_by_ipred, ipred_scatter)
ax1.scatter(x, y, s=DOT, color='black', linewidths=0)
ax1.axline((0, 0), slope=1, color='black', linewidth=1.1)
ax1.axline((0, trend_ipred[1]), slope=trend_ipred[0], color='black', linewidth=0.9, linestyle=(0, (4, 3)))

ax2 = make_axes(fig, 413.5, 732.5, 0.5, 323, conc_ticks, conc_minor, conc_ticks, conc_minor, conc_lim, (-1.6, 36.7),
                'population predicted concentration [mg/L]', 'measured concentration [mg/L]')
x, y = expand(dv_by_pred, pred_scatter)
ax2.scatter(x, y, s=DOT, color='black', linewidths=0)
ax2.axline((0, 0), slope=1, color='black', linewidth=1.1)
ax2.axline((0, trend_pred[1]), slope=trend_pred[0], color='black', linewidth=0.9, linestyle=(0, (4, 3)))

ax3 = make_axes(fig, 37.5, 359, 374.5, 697.5, pred_ticks, pred_minor, cwres_ticks, cwres_minor, (-1.1, 24.2), cwres_lim,
                'population predicted concentration [mg/L]', 'conditional weighted residuals', xpad=2.6, ypad=1.8)
x, y = expand(cwres_by_pred, cwres_pred_scatter)
ax3.scatter(x, y, s=DOT, color='black', linewidths=0)
ax3.axhline(0, color='#555555', linewidth=1.3)
ax3.axline((0, trend_cwres_pred[1]), slope=trend_cwres_pred[0], color='black', linewidth=0.9, linestyle=(0, (4, 3)))

ax4 = make_axes(fig, 410.5, 732.5, 374.5, 697.5, time_ticks, time_minor, cwres_ticks, cwres_minor, (-3.6, 75.6), cwres_lim,
                'time after dose [h]', 'conditional weighted residuals', xpad=2.6, ypad=1.8)
x, y = expand(cwres_by_time)
ax4.scatter(x, y, s=DOT, color='black', linewidths=0)
ax4.axhline(0, color='#555555', linewidth=1.3)
ax4.axline((0, trend_cwres_time[1]), slope=trend_cwres_time[0], color='black', linewidth=0.9, linestyle=(0, (4, 3)))

fig.savefig('out.png', dpi=100)
